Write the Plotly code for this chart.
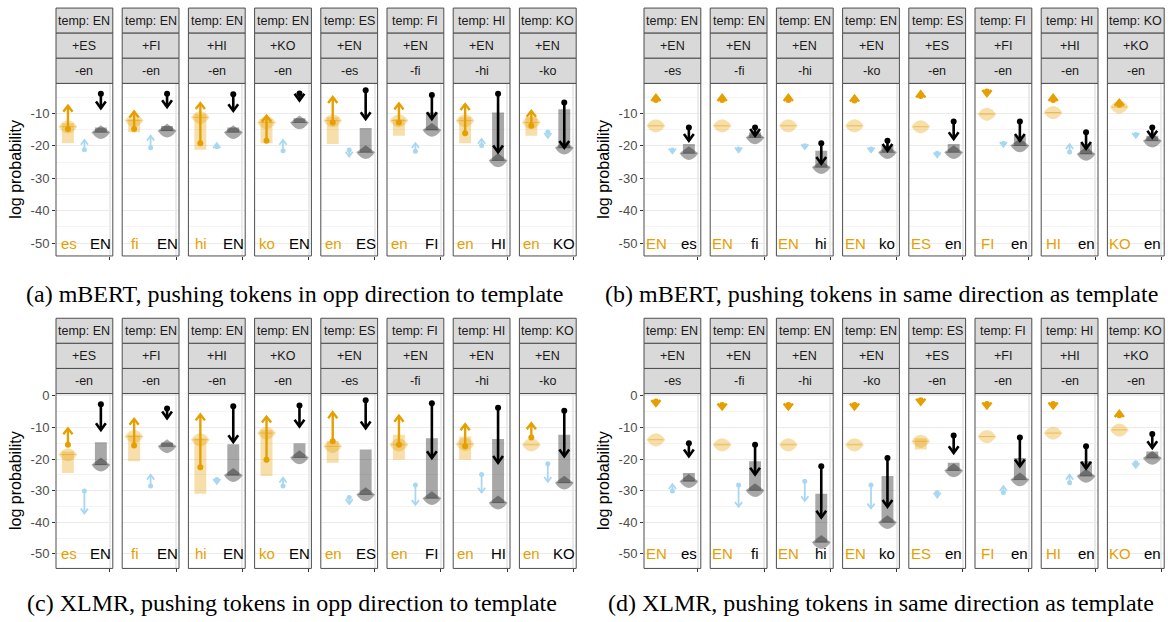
import plotly.graph_objects as go

W, H = 1168, 622

# ---------------- labels ----------------
TEMP = ['EN', 'EN', 'EN', 'EN', 'ES', 'FI', 'HI', 'KO']
PLUS_OPP = ['ES', 'FI', 'HI', 'KO', 'EN', 'EN', 'EN', 'EN']
MINUS_OPP = ['en', 'en', 'en', 'en', 'es', 'fi', 'hi', 'ko']
LEFT_OPP = ['es', 'fi', 'hi', 'ko', 'en', 'en', 'en', 'en']
RIGHT_OPP = ['EN', 'EN', 'EN', 'EN', 'ES', 'FI', 'HI', 'KO']
PLUS_SAME = ['EN', 'EN', 'EN', 'EN', 'ES', 'FI', 'HI', 'KO']
MINUS_SAME = ['es', 'fi', 'hi', 'ko', 'en', 'en', 'en', 'en']
LEFT_SAME = ['EN', 'EN', 'EN', 'EN', 'ES', 'FI', 'HI', 'KO']
RIGHT_SAME = ['es', 'fi', 'hi', 'ko', 'en', 'en', 'en', 'en']
CAPTIONS = ['(a) mBERT, pushing tokens in opp direction to template',
            '(b) mBERT, pushing tokens in same direction as template',
            '(c) XLMR, pushing tokens in opp direction to template',
            '(d) XLMR, pushing tokens in same direction as template']
Y_TICKS = [0, -10, -20, -30, -40, -50]
Y_TICK_TEXT = ['0', '-10', '-20', '-30', '-40', '-50']
Y_MINOR = [-5, -15, -25, -35, -45]

# ---------------- panel (a) mBERT opp ----------------
A_O_START = [-14.8, -14.8, -19.2, -18.4, -12.8, -12.8, -16.1, -13.8]
A_O_END = [-7.6, -9.4, -6.8, -10.7, -4.9, -6.9, -7.1, -9.2]
A_O_BAR_TOP = [-13.0, -11.7, -10.2, -11.7, -11.2, -11.7, -11.2, -11.2]
A_O_BAR_BOT = [-19.2, -15.8, -21.2, -19.2, -19.4, -16.9, -19.2, -16.9]
A_O_BLOB = [-14.1, -12.2, -11.2, -12.8, -12.2, -12.2, -12.2, -12.8]
A_B_START = [-21.2, -20.6, -20.3, -21.5, -21.3, -21.7, -19.9, -15.7]
A_B_END = [-18.2, -16.9, -19.2, -18.2, -23.3, -19.2, -17.9, -17.5]
A_G_BAR_TOP = [-14.3, -13.9, -14.3, -11.5, -14.5, -9.7, -9.7, -8.7]
A_G_BLOB = [-15.8, -15.3, -15.8, -12.8, -22.0, -15.1, -24.5, -20.6]
A_K_START = [-3.9, -3.9, -4.1, -3.8, -2.8, -4.3, -3.9, -6.6]
A_K_END = [-8.4, -8.0, -9.2, -6.0, -11.7, -11.7, -22.0, -20.6]

# ---------------- panel (b) mBERT same ----------------
B_O_START = [-5.8, -5.8, -5.8, -6.0, -4.6, -3.2, -5.8, -7.3]
B_O_END = [-4.3, -4.3, -4.3, -4.5, -3.2, -4.6, -4.3, -5.8]
B_O_BAR_TOP = [None, None, None, None, None, None, None, None]
B_O_BAR_BOT = [None, None, None, None, None, None, None, None]
B_O_BLOB = [-13.8, -13.8, -13.8, -13.8, -14.1, -10.2, -9.7, -8.0]
B_B_START = [-21.3, -21.0, -20.0, -21.0, -22.3, -19.2, -21.9, -16.5]
B_B_END = [-22.3, -22.0, -21.0, -22.0, -23.5, -20.3, -19.5, -17.5]
B_G_BAR_TOP = [-19.4, -15.8, -21.5, -20.0, -19.4, -16.9, -19.4, -16.9]
B_G_BLOB = [-22.3, -17.4, -26.6, -22.0, -22.0, -19.9, -22.5, -18.4]
B_K_START = [-14.3, -14.3, -19.2, -18.4, -12.5, -12.5, -15.8, -14.3]
B_K_END = [-18.4, -16.9, -25.5, -21.5, -17.9, -18.4, -20.9, -17.4]

# ---------------- panel (c) XLMR opp ----------------
C_O_START = [-15.5, -15.7, -22.6, -20.2, -14.4, -15.5, -16.0, -13.2]
C_O_END = [-10.3, -7.3, -5.9, -6.6, -5.2, -6.3, -9.0, -8.7]
C_O_BAR_TOP = [-17.6, -12.3, -13.4, -10.8, -14.4, -12.3, -12.9, None]
C_O_BAR_BOT = [-24.4, -20.7, -31.0, -25.4, -21.2, -20.2, -20.2, None]
C_O_BLOB = [-18.6, -12.9, -13.9, -11.8, -16.0, -15.5, -15.3, -15.5]
C_B_START = [-30.1, -28.5, -26.5, -28.5, -32.2, -28.2, -24.9, -21.5]
C_B_END = [-37.2, -25.0, -27.8, -25.9, -34.2, -34.5, -30.6, -27.2]
C_G_BAR_TOP = [-14.7, -14.8, -15.3, -15.0, -17.0, -13.4, -13.7, -12.3]
C_G_BLOB = [-21.8, -16.0, -25.1, -19.5, -31.2, -32.4, -33.8, -27.5]
C_K_START = [-2.7, -4.0, -3.3, -3.1, -1.4, -2.4, -3.8, -4.7]
C_K_END = [-10.8, -7.1, -14.6, -9.7, -10.3, -19.7, -21.2, -19.1]

# ---------------- panel (d) XLMR same ----------------
D_O_START = [-1.8, -2.9, -2.9, -2.9, -1.4, -2.6, -2.6, -6.2]
D_O_END = [-3.2, -4.3, -4.3, -4.3, -2.8, -4.0, -4.0, -4.8]
D_O_BAR_TOP = [None, None, None, None, -13.4, None, None, None]
D_O_BAR_BOT = [None, None, None, None, -17.0, None, None, None]
D_O_BLOB = [-13.9, -15.5, -15.5, -15.5, -14.4, -12.9, -11.8, -10.8]
D_B_START = [-30.1, -28.2, -27.0, -28.2, -30.6, -30.6, -27.5, -21.2]
D_B_END = [-28.0, -35.1, -33.3, -35.6, -32.2, -28.6, -25.0, -22.8]
D_G_BAR_TOP = [-24.4, -20.7, -31.0, -25.4, -21.2, -19.7, -20.7, -17.6]
D_G_BLOB = [-27.0, -29.9, -46.3, -40.0, -23.6, -26.5, -25.4, -19.7]
D_K_START = [-15.0, -15.5, -22.3, -19.7, -12.6, -13.2, -16.0, -12.1]
D_K_END = [-19.1, -24.9, -38.5, -35.1, -18.1, -22.3, -23.0, -16.5]

# ---------------- style ----------------
ORANGE = '#E69F00'
ORANGE_FILL = 'rgba(230,159,0,0.33)'
ORANGE_LINE = 'rgba(230,159,0,0.55)'
GREY_FILL = 'rgba(0,0,0,0.34)'
GREY_LINE = 'rgba(0,0,0,0.30)'
BLUE = '#A9D7F2'
BORDER = '#4D4D4D'
STRIP_FILL = '#D9D9D9'
SANS = 'Liberation Sans, Arial, sans-serif'
SERIF = 'Liberation Serif, Times New Roman, serif'

STEP = 66.2
FW = 56.8
STRIP_H = 25.3
XO, XB, XK = 0.21, 0.50, 0.79
BAR_HW = 0.105
BLOB_HW = 0.165
BLOB_HPX = 6.5

# arrow styles: (colour, line width, head half-width px, head length px, dot size)
ARROW_STYLE = {
    'blue': (BLUE, 1.8, 3.6, 4.8, 5),
    'orange': (ORANGE, 2.4, 4.6, 6.0, 6),
    'black': ('black', 2.6, 4.9, 6.8, 6),
}

panels = [
    dict(lab=(TEMP, PLUS_OPP, MINUS_OPP, LEFT_OPP, RIGHT_OPP),
         d=(A_O_START, A_O_END, A_O_BAR_TOP, A_O_BAR_BOT, A_O_BLOB, A_B_START, A_B_END,
            A_G_BAR_TOP, A_G_BLOB, A_K_START, A_K_END),
         x0=56.0, top=79.0, bot=253.0, yr=[-54.0, -0.7], cap=CAPTIONS[0], capx=294, capy=291),
    dict(lab=(TEMP, PLUS_SAME, MINUS_SAME, LEFT_SAME, RIGHT_SAME),
         d=(B_O_START, B_O_END, B_O_BAR_TOP, B_O_BAR_BOT, B_O_BLOB, B_B_START, B_B_END,
            B_G_BAR_TOP, B_G_BLOB, B_K_START, B_K_END),
         x0=644.0, top=79.0, bot=253.0, yr=[-54.0, -0.7], cap=CAPTIONS[1], capx=881, capy=291),
    dict(lab=(TEMP, PLUS_OPP, MINUS_OPP, LEFT_OPP, RIGHT_OPP),
         d=(C_O_START, C_O_END, C_O_BAR_TOP, C_O_BAR_BOT, C_O_BLOB, C_B_START, C_B_END,
            C_G_BAR_TOP, C_G_BLOB, C_K_START, C_K_END),
         x0=56.0, top=391.7, bot=568.0, yr=[-54.6, 0.7], cap=CAPTIONS[2], capx=292, capy=603),
    dict(lab=(TEMP, PLUS_SAME, MINUS_SAME, LEFT_SAME, RIGHT_SAME),
         d=(D_O_START, D_O_END, D_O_BAR_TOP, D_O_BAR_BOT, D_O_BLOB, D_B_START, D_B_END,
            D_G_BAR_TOP, D_G_BLOB, D_K_START, D_K_END),
         x0=644.0, top=391.7, bot=568.0, yr=[-54.6, 0.7], cap=CAPTIONS[3], capx=881, capy=603),
]


def lens(xc, yc, hw, hh, pointed_top=False):
    if pointed_top:
        upper = f"L {xc},{yc + hh * 1.1} L {xc + hw},{yc}"
    else:
        upper = f"Q {xc},{yc + 2 * hh} {xc + hw},{yc}"
    return (f"M {xc - hw},{yc} {upper} "
            f"Q {xc},{yc - 2.1 * hh} {xc - hw},{yc} Z")


fig = go.Figure()
layout = {}
shapes = []
annots = []
k = 0
for p in panels:
    temp, plus, minus, left_l, right_l = p['lab']
    (o_s, o_e, o_bt, o_bb, o_blob, b_s, b_e, g_bt, g_blob, k_s, k_e) = p['d']
    ppu = (p['bot'] - p['top']) / (p['yr'][1] - p['yr'][0])
    hh = BLOB_HPX / ppu
    for i in range(8):
        k += 1
        sfx = '' if k == 1 else str(k)
        xr, yr_ = 'x' + sfx, 'y' + sfx
        lx = p['x0'] + i * STEP
        rx = lx + FW
        first = (i == 0)
        layout['xaxis' + sfx] = dict(
            domain=[lx / W, rx / W], range=[0, 1], anchor=yr_,
            tickvals=[0.95], ticks='outside', ticklen=3, tickcolor='#333333', tickwidth=1,
            showticklabels=False, showgrid=True, gridcolor='#EBEBEB', gridwidth=2,
            zeroline=False, showline=False, fixedrange=True)
        layout['yaxis' + sfx] = dict(
            domain=[1 - p['bot'] / H, 1 - p['top'] / H], range=p['yr'], anchor=xr,
            tickmode='array', tickvals=Y_TICKS, ticktext=Y_TICK_TEXT,
            ticks='outside' if first else '', ticklen=3, tickcolor='#333333',
            showticklabels=first,
            tickfont=dict(family=SANS, size=13, color='#4D4D4D'),
            showgrid=True, gridcolor='#EBEBEB', gridwidth=1,
            minor=dict(tickvals=Y_MINOR, showgrid=True, gridcolor='#F4F4F4', gridwidth=1),
            zeroline=False, showline=False, fixedrange=True)

        # orange bar
        if o_bt[i] is not None:
            shapes.append(dict(type='rect', xref=xr, yref=yr_, x0=XO - BAR_HW, x1=XO + BAR_HW,
                               y0=o_bb[i], y1=o_bt[i], fillcolor=ORANGE_FILL,
                               line=dict(width=0), layer='between'))
        # orange blob
        shapes.append(dict(type='path', xref=xr, yref=yr_, path=lens(XO, o_blob[i], BLOB_HW, hh),
                           fillcolor=ORANGE_FILL, line=dict(width=0), layer='between'))
        shapes.append(dict(type='line', xref=xr, yref=yr_, x0=XO - BLOB_HW * 0.8,
                           x1=XO + BLOB_HW * 0.8, y0=o_blob[i], y1=o_blob[i],
                           line=dict(color=ORANGE_LINE, width=1), layer='between'))
        # grey bar (from top to blob centre)
        if g_bt[i] is not None:
            shapes.append(dict(type='rect', xref=xr, yref=yr_, x0=XK - BAR_HW, x1=XK + BAR_HW,
                               y0=g_blob[i], y1=g_bt[i], fillcolor=GREY_FILL,
                               line=dict(width=0), layer='between'))
        shapes.append(dict(type='path', xref=xr, yref=yr_,
                           path=lens(XK, g_blob[i], BLOB_HW, hh, pointed_top=True),
                           fillcolor=GREY_FILL, line=dict(width=0), layer='between'))
        shapes.append(dict(type='line', xref=xr, yref=yr_, x0=XK - BLOB_HW * 0.8,
                           x1=XK + BLOB_HW * 0.8, y0=g_blob[i], y1=g_blob[i],
                           line=dict(color=GREY_LINE, width=1), layer='between'))

        # arrows: shaft + chevron head + start dot
        for (key, xx, ys, ye) in [('blue', XB, b_s[i], b_e[i]),
                                  ('orange', XO, o_s[i], o_e[i]),
                                  ('black', XK, k_s[i], k_e[i])]:
            col, wd, hwp, hlp, ds = ARROW_STYLE[key]
            dirn = 1.0 if ye > ys else -1.0
            hw = hwp / FW
            hl = hlp / ppu
            xs_ = [xx, xx, None, xx - hw, xx, xx + hw]
            ys_ = [ys, ye, None, ye - dirn * hl, ye, ye - dirn * hl]
            fig.add_trace(go.Scatter(
                x=xs_, y=ys_, mode='lines', xaxis=xr, yaxis=yr_,
                line=dict(color=col, width=wd), hoverinfo='skip', showlegend=False))
            fig.add_trace(go.Scatter(
                x=[xx], y=[ys], mode='markers', xaxis=xr, yaxis=yr_,
                marker=dict(size=ds, color=col, line=dict(width=0)),
                hoverinfo='skip', showlegend=False))

        # bottom labels
        annots.append(dict(x=XO + 0.01, y=-50, xref=xr, yref=yr_, text=left_l[i], showarrow=False,
                           xanchor='center', yanchor='middle',
                           font=dict(family=SANS, size=15, color=ORANGE)))
        annots.append(dict(x=XK, y=-50, xref=xr, yref=yr_, text=right_l[i], showarrow=False,
                           xanchor='center', yanchor='middle',
                           font=dict(family=SANS, size=15, color='black')))

        # panel border
        shapes.append(dict(type='rect', xref=xr + ' domain', yref=yr_ + ' domain',
                           x0=0, x1=1, y0=0, y1=1, line=dict(color=BORDER, width=1),
                           fillcolor='rgba(0,0,0,0)', layer='above'))
        # strips
        for j, txt in enumerate(['temp: ' + temp[i], '+' + plus[i], '-' + minus[i]]):
            st = p['top'] - STRIP_H * (3 - j)
            sb = st + STRIP_H
            shapes.append(dict(type='rect', xref='paper', yref='paper',
                               x0=lx / W, x1=rx / W, y0=1 - sb / H, y1=1 - st / H,
                               fillcolor=STRIP_FILL, line=dict(color=BORDER, width=1),
                               layer='above'))
            annots.append(dict(x=(lx + rx) / 2 / W, y=1 - (st + sb) / 2 / H, xref='paper',
                               yref='paper', text=txt, showarrow=False,
                               xanchor='center', yanchor='middle',
                               font=dict(family=SANS, size=12.5, color='#1A1A1A')))

    # y title
    annots.append(dict(x=(p['x0'] - 40) / W, y=1 - (p['top'] + p['bot']) / 2 / H, xref='paper',
                       yref='paper', text='log probability', textangle=-90, showarrow=False,
                       xanchor='center', yanchor='middle',
                       font=dict(family=SANS, size=16, color='black')))
    # caption
    annots.append(dict(x=p['capx'] / W, y=1 - p['capy'] / H, xref='paper', yref='paper',
                       text=p['cap'], showarrow=False, xanchor='center', yanchor='middle',
                       font=dict(family=SERIF, size=24, color='black')))

fig.update_layout(width=W, height=H, margin=dict(l=0, r=0, t=0, b=0),
                  paper_bgcolor='white', plot_bgcolor='white', showlegend=False,
                  shapes=shapes, annotations=annots, **layout)
fig.write_html('out.html', config={'displayModeBar': False},
               post_script="document.body.style.margin='0px';document.body.style.overflow='hidden';")
